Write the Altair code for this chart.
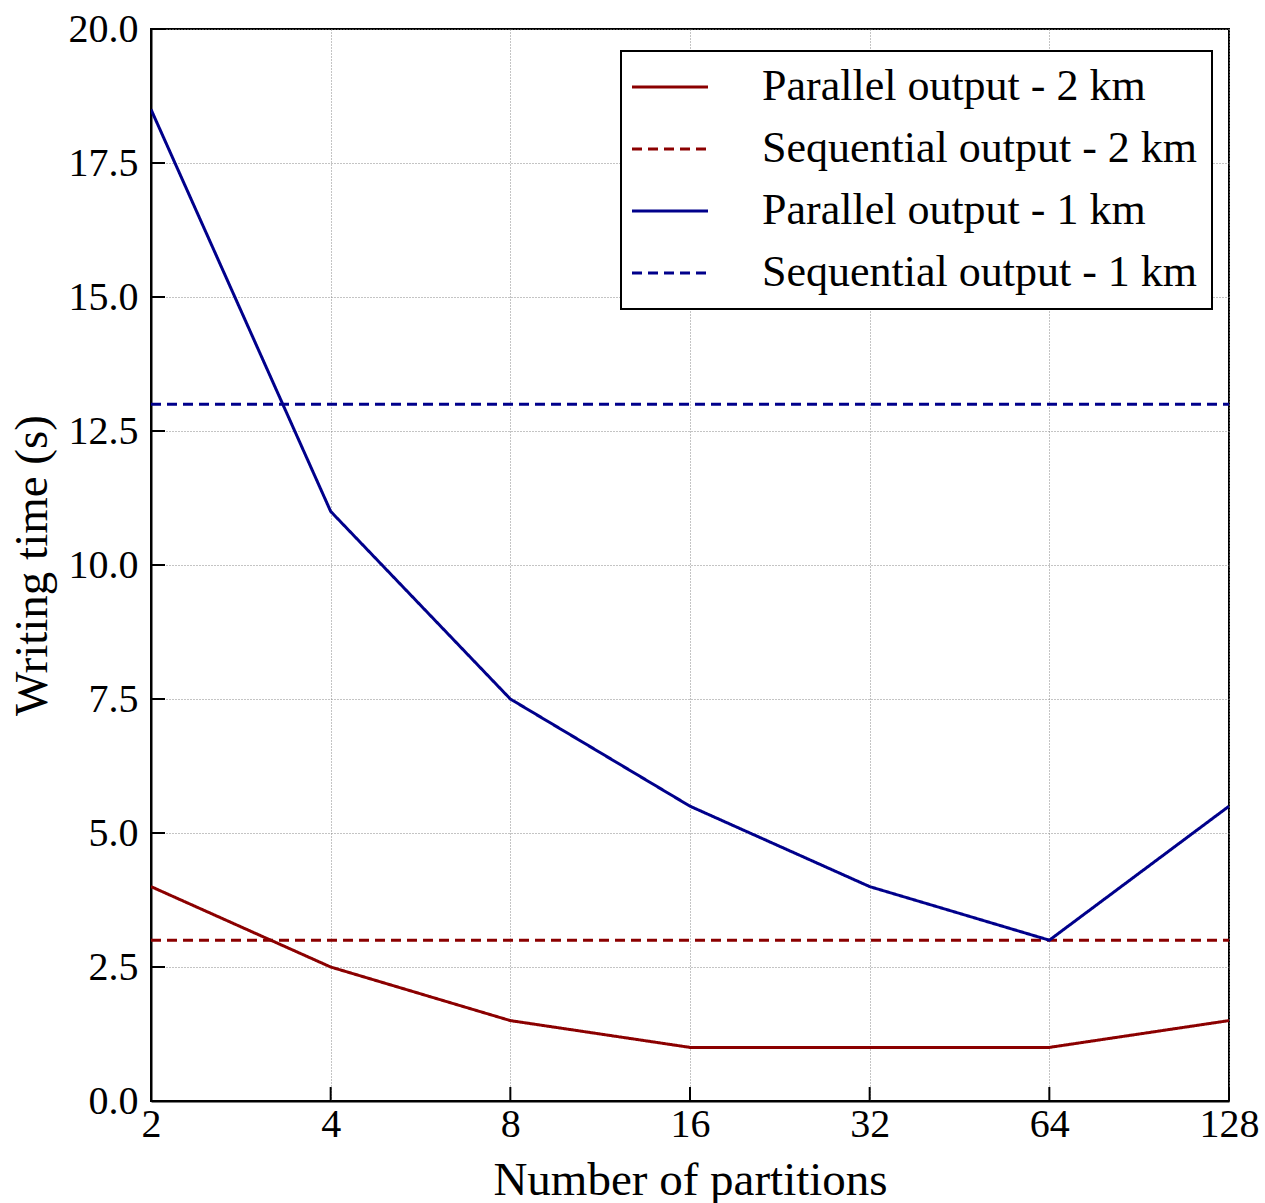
import altair as alt
import pandas as pd

# ---- data ----
partitions = [2, 4, 8, 16, 32, 64, 128]
parallel_2km = [4.0, 2.5, 1.5, 1.0, 1.0, 1.0, 1.5]
parallel_1km = [18.5, 11.0, 7.5, 5.5, 4.0, 3.0, 5.5]
sequential_2km = 3.0
sequential_1km = 13.0

series_names = [
    "Parallel output - 2 km",
    "Sequential output - 2 km",
    "Parallel output - 1 km",
    "Sequential output - 1 km",
]
series_colors = ["#8b0000", "#8b0000", "#00008b", "#00008b"]
series_dashes = [[1, 0], [10, 6], [1, 0], [10, 6]]

x_ticks = [2, 4, 8, 16, 32, 64, 128]
y_ticks = [0.0, 2.5, 5.0, 7.5, 10.0, 12.5, 15.0, 17.5, 20.0]

rows = []
for p, v in zip(partitions, parallel_2km):
    rows.append({"x": p, "y": v, "series": series_names[0]})
for p in (partitions[0], partitions[-1]):
    rows.append({"x": p, "y": sequential_2km, "series": series_names[1]})
for p, v in zip(partitions, parallel_1km):
    rows.append({"x": p, "y": v, "series": series_names[2]})
for p in (partitions[0], partitions[-1]):
    rows.append({"x": p, "y": sequential_1km, "series": series_names[3]})
df = pd.DataFrame(rows)

W, H = 1078, 1072
FONT = "Liberation Serif"

xscale = alt.Scale(type="log", base=2, domain=[2, 128], nice=False)
yscale = alt.Scale(domain=[0, 20], nice=False, zero=True)

legend = alt.Legend(
    orient="none",
    legendX=470,
    legendY=22,
    symbolType="M-2,0H2",
    symbolSize=1444,
    symbolStrokeWidth=3,
    symbolOffset=13,
    labelFontSize=44,
    labelFont=FONT,
    labelColor="black",
    labelOffset=70,
    labelLimit=700,
    rowPadding=18,
    padding=14,
    strokeColor="black",
    fillColor="white",
    cornerRadius=0,
)

lines = alt.Chart(df).mark_line(strokeWidth=3, clip=True).encode(
    x=alt.X(
        "x:Q",
        scale=xscale,
        axis=alt.Axis(
            values=x_ticks,
            format="d",
            title="Number of partitions",
            grid=True,
            gridColor="#888888",
            gridDash=[1, 2],
            gridWidth=1,
            ticks=False,
            labelPadding=3,
            labelFontSize=40,
            titleFontSize=47,
            titlePadding=13,
            labelFlush=False,
            labelOverlap=False,
        ),
    ),
    y=alt.Y(
        "y:Q",
        scale=yscale,
        axis=alt.Axis(
            values=y_ticks,
            format=".1f",
            title="Writing time (s)",
            grid=True,
            gridColor="#888888",
            gridDash=[1, 2],
            gridWidth=1,
            ticks=False,
            labelPadding=13,
            labelFontSize=40,
            titleFontSize=47,
            titlePadding=12,
            labelFlush=False,
            labelOverlap=False,
        ),
    ),
    color=alt.Color(
        "series:N",
        scale=alt.Scale(domain=series_names, range=series_colors),
        legend=legend,
        title=None,
    ),
    strokeDash=alt.StrokeDash(
        "series:N",
        scale=alt.Scale(domain=series_names, range=series_dashes),
        legend=legend,
        title=None,
    ),
    detail="series:N",
    order="x:Q",
)

ytick_df = pd.DataFrame({"y": y_ticks})
xtick_df = pd.DataFrame({"x": x_ticks})

yticks = alt.Chart(ytick_df).mark_rule(color="black", strokeWidth=2).encode(
    y=alt.Y("y:Q", scale=yscale),
    x=alt.value(0),
    x2=alt.value(14),
)
xticks = alt.Chart(xtick_df).mark_rule(color="black", strokeWidth=2).encode(
    x=alt.X("x:Q", scale=xscale),
    y=alt.value(H),
    y2=alt.value(H - 14),
)

chart = (
    alt.layer(lines, yticks, xticks)
    .properties(
        width=W,
        height=H,
        autosize=alt.AutoSizeParams(type="none"),
        padding={"left": 151, "top": 29, "right": 36, "bottom": 102},
        background="white",
    )
    .configure(font=FONT)
    .configure_view(stroke="black", strokeWidth=2)
    .configure_axis(
        domainColor="black",
        domainWidth=2,
        labelColor="black",
        titleColor="black",
        labelFont=FONT,
        titleFont=FONT,
        titleFontWeight="normal",
    )
    .configure_legend(strokeWidth=2)
)

chart.save("out.html", embed_options={"renderer": "svg", "actions": False})
